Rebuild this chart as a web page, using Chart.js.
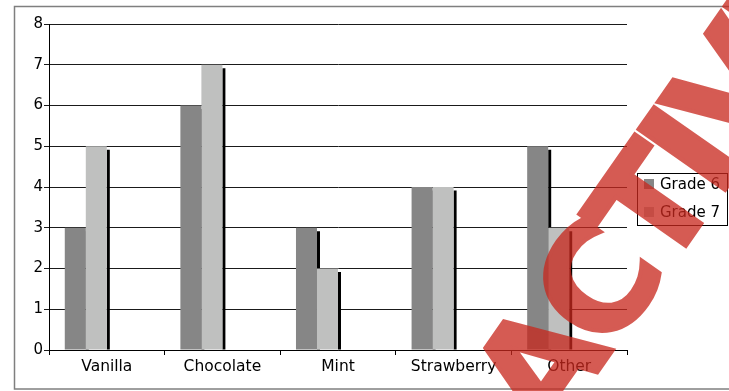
<!DOCTYPE html>
<html>
<head>
<meta charset="utf-8">
<script src="https://cdn.jsdelivr.net/npm/chart.js@4.4.1/dist/chart.umd.min.js"></script>
<style>
    html, body { margin: 0; padding: 0; background: #fff; overflow: hidden; }
    #chart-container { position: relative; width: 729px; height: 391px; }
</style>
</head>
<body>
<div id="chart-container"><canvas id="chart1"></canvas></div>
<script>
const flavours = ["Vanilla", "Chocolate", "Mint", "Strawberry", "Other"];
const grade6 = [3, 6, 3, 4, 5];
const grade7 = [5, 7, 2, 4, 3];
const seriesNames = ["Grade 6", "Grade 7"];
const seriesColors = ["#868686", "#bfc0bf"];
const yMin = 0, yMax = 8, yStep = 1;
const watermark = "ACTIVITY";

const FONT = "'DejaVu Sans', sans-serif";

/*************Plugins*************/

// outer frame of the picture
const framePlugin = {
    id: 'frame',
    beforeDraw(chart) {
        const ctx = chart.ctx;
        ctx.save();
        ctx.strokeStyle = "#7f7f7f";
        ctx.lineWidth = 1.5;
        ctx.strokeRect(14.5, 6.5, 800, 382.5);
        ctx.restore();
    }
};

// black drop shadow on the right of each bar
const shadowPlugin = {
    id: 'barShadow',
    beforeDatasetsDraw(chart) {
        const ctx = chart.ctx;
        ctx.save();
        ctx.fillStyle = "#000";
        for (let i = 0; i < seriesNames.length; i++) {
            const meta = chart.getDatasetMeta(i);
            meta.data.forEach(function (bar) {
                const p = bar.getProps(['x', 'y', 'base', 'width'], true);
                ctx.fillRect(p.x + p.width / 2, p.y + 3.5, 3, p.base - p.y - 3.5);
            });
        }
        ctx.restore();
    }
};

// boxed legend on the right
const legendPlugin = {
    id: 'boxLegend',
    afterDraw(chart) {
        const ctx = chart.ctx;
        ctx.save();
        ctx.strokeStyle = "#000";
        ctx.lineWidth = 1;
        ctx.strokeRect(637.5, 173.5, 90, 52);
        ctx.font = "15px " + FONT;
        ctx.textBaseline = "middle";
        for (let i = 0; i < seriesNames.length; i++) {
            const ds = chart.data.datasets[i];
            const cy = 184 + i * 28;
            ctx.fillStyle = ds.backgroundColor;
            ctx.fillRect(644, cy - 5, 10, 10);
            ctx.fillStyle = "#000";
            ctx.fillText(ds.label, 660, cy + 1);
        }
        ctx.restore();
    }
};

// red diagonal stamp, drawn opaque off screen then laid over with alpha
const stampPlugin = {
    id: 'stamp',
    afterDraw(chart) {
        const ctx = chart.ctx;
        const fs = 145;
        const gap = -8;
        const off = document.createElement('canvas');
        off.width = chart.canvas.width;
        off.height = chart.canvas.height;
        const o = off.getContext('2d');
        o.font = "bold " + fs + "px 'DejaVu Sans', sans-serif";
        o.fillStyle = "rgb(200, 40, 30)";
        o.strokeStyle = "rgb(200, 40, 30)";
        o.lineWidth = 4;
        o.textBaseline = "alphabetic";
        o.translate(596, 282);
        o.rotate(-55 * Math.PI / 180);
        const wA = o.measureText(watermark[0]).width;
        const wC = o.measureText(watermark[1]).width;
        let x = -(wA + gap + wC / 2);
        const y = fs * 0.365;
        for (const ch of watermark) {
            o.fillText(ch, x, y);
            o.strokeText(ch, x, y);
            x += o.measureText(ch).width + gap;
        }
        ctx.save();
        ctx.globalAlpha = 0.76;
        ctx.drawImage(off, 0, 0, chart.width, chart.height);
        ctx.restore();
    }
};

/*************Chart*************/

const chart1 = document.getElementById("chart1");
const datasets = seriesNames.map(function (name, i) {
    return {
        label: name,
        data: i === 0 ? grade6 : grade7,
        backgroundColor: seriesColors[i],
        borderWidth: 0
    };
});
// two empty series keep the bars on the left part of each category
datasets.push({ label: "", data: [], backgroundColor: "#fff" });
datasets.push({ label: "", data: [], backgroundColor: "#fff" });

const barChart = new Chart(chart1, {
    type: 'bar',
    data: {
        labels: flavours,
        datasets: datasets
    },
    plugins: [framePlugin, shadowPlugin, legendPlugin, stampPlugin],
    options: {
        responsive: true,
        maintainAspectRatio: false,
        animation: false,
        events: [],
        categoryPercentage: 0.727,
        barPercentage: 1.0,
        layout: { padding: { left: 0, top: 24, right: 102, bottom: 0 } },
        plugins: {
            legend: { display: false },
            tooltip: { enabled: false }
        },
        scales: {
            x: {
                offset: true,
                grid: { display: true, drawOnChartArea: false, color: "#000", tickLength: 5 },
                border: { display: true, color: "#000", width: 1 },
                ticks: { color: "#000", font: { family: FONT, size: 15.5 }, padding: 3, maxRotation: 0 },
                afterFit(scale) { scale.height = 41; }
            },
            y: {
                min: yMin,
                max: yMax,
                grid: { color: "#1a1a1a", lineWidth: 1, tickLength: 5 },
                border: { display: true, color: "#000", width: 1 },
                ticks: { stepSize: yStep, color: "#000", font: { family: FONT, size: 15 }, padding: 1 },
                afterFit(scale) { scale.width = 49; }
            }
        }
    }
});
</script>
</body>
</html>
